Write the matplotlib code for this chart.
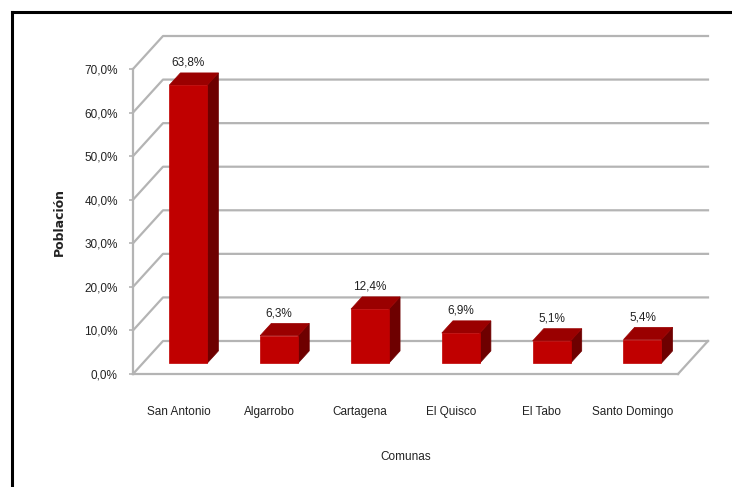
import matplotlib
matplotlib.use("Agg")
import matplotlib.pyplot as plt
from matplotlib.patches import Polygon, Rectangle
from matplotlib.lines import Line2D

# Population share by commune (Provincia de San Antonio)
comunas = ["San Antonio", "Algarrobo", "Cartagena", "El Quisco", "El Tabo", "Santo Domingo"]
poblacion = [63.8, 6.3, 12.4, 6.9, 5.1, 5.4]
etiquetas = ["63,8%", "6,3%", "12,4%", "6,9%", "5,1%", "5,4%"]
yticks = [0, 10, 20, 30, 40, 50, 60, 70]
ytick_labels = ["0,0%", "10,0%", "20,0%", "30,0%", "40,0%", "50,0%", "60,0%", "70,0%"]

W, H = 732, 487
fig = plt.figure(figsize=(W / 100, H / 100), dpi=100)
fig.patch.set_facecolor("white")

narrow = ["Liberation Sans Narrow", "Liberation Sans", "DejaVu Sans"]

# Front plane of the 3-D box, in pixels
x0, x1 = 133, 678
y_bottom, y_top = 374, 69
ax = fig.add_axes([x0 / W, (H - y_bottom) / H, (x1 - x0) / W, (y_bottom - y_top) / H])
n = len(comunas)
ax.set_xlim(-0.5, n - 0.5)
ax.set_ylim(0, 70)
ax.patch.set_alpha(0)

px_per_cat = (x1 - x0) / n
px_per_pct = (y_bottom - y_top) / 70.0
# full depth of the floor (pixels -> data units)
DX = 30 / px_per_cat
DY = 33 / px_per_pct

grid_c = "#B4B4B4"
grid_lw = 1.6

# Back wall gridlines with their diagonal on the left side wall
for v in yticks:
    ax.add_line(Line2D([-0.5, -0.5 + DX, n - 0.5 + DX], [v, v + DY, v + DY],
                       color=grid_c, lw=grid_lw, clip_on=False, zorder=1))
# floor right edge
ax.add_line(Line2D([n - 0.5, n - 0.5 + DX], [0, DY],
                   color=grid_c, lw=grid_lw, clip_on=False, zorder=1))

# 3-D bars
f0, f1 = 0.33, 0.70          # front / back depth fraction of the bars
half_w = 0.209
front_c, top_c, side_c = "#C00000", "#9A0000", "#6E0000"
for i, v in enumerate(poblacion):
    fx, fy = f0 * DX, f0 * DY
    bx, by = f1 * DX, f1 * DY
    xl, xr = i - half_w, i + half_w
    # side face
    ax.add_patch(Polygon([(xr + fx, fy), (xr + bx, by), (xr + bx, v + by), (xr + fx, v + fy)],
                         closed=True, facecolor=side_c, edgecolor=side_c, lw=0.5,
                         clip_on=False, zorder=3))
    # top face
    ax.add_patch(Polygon([(xl + fx, v + fy), (xr + fx, v + fy), (xr + bx, v + by), (xl + bx, v + by)],
                         closed=True, facecolor=top_c, edgecolor=top_c, lw=0.5,
                         clip_on=False, zorder=3))
    # front face
    ax.add_patch(Rectangle((xl + fx, fy), 2 * half_w, v, facecolor=front_c,
                           edgecolor=front_c, lw=0.5, clip_on=False, zorder=4))
    ax.annotate(etiquetas[i], xy=(i + fx, v + by), xytext=(0, 3), textcoords="offset points",
                ha="center", va="bottom", fontsize=8.5, family=narrow, color="#222222",
                annotation_clip=False, zorder=5)

# Axes styling
for s in ["top", "right"]:
    ax.spines[s].set_visible(False)
ax.spines["left"].set_color(grid_c)
ax.spines["left"].set_linewidth(grid_lw)
ax.spines["bottom"].set_color(grid_c)
ax.spines["bottom"].set_linewidth(grid_lw)
ax.spines["bottom"].set_zorder(2)

ax.set_yticks(yticks)
ax.set_yticklabels(ytick_labels, family=narrow, fontsize=8.5, color="#222222")
ax.tick_params(axis="y", length=3, width=1.2, color=grid_c, pad=8)
ax.set_xticks(range(n))
ax.set_xticklabels(comunas, family=narrow, fontsize=8.5, color="#222222")
ax.tick_params(axis="x", length=0, pad=23)

ax.set_ylabel("Población", fontsize=9, fontweight="bold", family="DejaVu Sans",
              color="#222222", labelpad=13)
ax.set_xlabel("Comunas", fontsize=8.5, family=narrow, color="#222222", labelpad=24)

# Outer frame (left and top edges)
fig.add_artist(Line2D([11.5 / W, 11.5 / W], [0, 1 - 11.5 / H], color="black", lw=2.2,
                      transform=fig.transFigure))
fig.add_artist(Line2D([11.5 / W, 1], [1 - 11.5 / H, 1 - 11.5 / H], color="black", lw=2.2,
                      transform=fig.transFigure))

fig.savefig("out.png", dpi=100)
